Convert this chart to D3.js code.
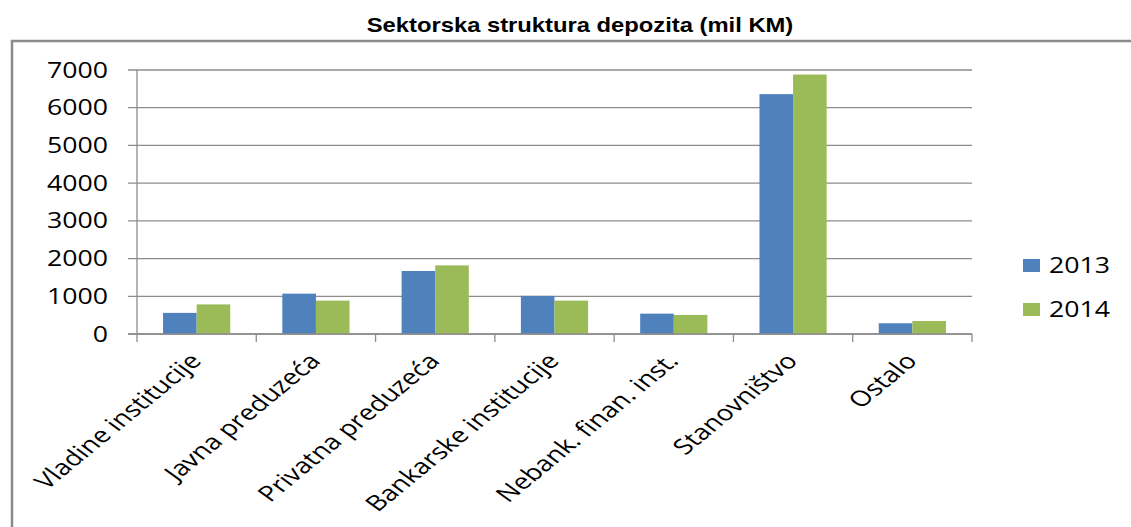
<!DOCTYPE html>
<html>
<head>
<meta charset="utf-8">
<script src="https://cdnjs.cloudflare.com/ajax/libs/d3/7.8.5/d3.min.js"></script>
<style>
  body { margin: 0; background: #fff; }
  svg { display: block; }
</style>
</head>
<body>
<svg id="chart" width="1131" height="527"></svg>
<script>
// Data
var categories = ["Vladine institucije", "Javna preduzeća", "Privatna preduzeća",
    "Bankarske institucije", "Nebank. finan. inst.", "Stanovništvo", "Ostalo"];
var years = ["2013", "2014"];
var values2013 = [560, 1070, 1670, 1010, 540, 6360, 285];
var values2014 = [785, 885, 1820, 885, 505, 6880, 345];
var yTicks = [0, 1000, 2000, 3000, 4000, 5000, 6000, 7000];
var colors = ["#4F81BD", "#9BBB59"];

var style = {
    left: 137, right: 972, top: 70, bottom: 334,
    stretch: 1.27,
    font: "'Open Sans', sans-serif",
    grid: "#8c8c8c"
};

var svg = d3.select("#chart");

var x = d3.scaleBand().domain(categories).range([style.left, style.right]).paddingInner(0).paddingOuter(0);
var x1 = d3.scaleBand().domain(years).range([0, x.bandwidth()]).paddingOuter(0.775).paddingInner(0);
var y = d3.scaleLinear().domain([0, 7000]).range([style.bottom, style.top]);

// horizontally stretched text like the source image
function stretchedText(g, tx, ty, txt, size, anchor, weight, family, sx) {
    return g.append("text")
        .attr("transform", "translate(" + tx + "," + ty + ") scale(" + (sx || style.stretch) + ",1)")
        .attr("text-anchor", anchor)
        .attr("font-family", family || style.font)
        .attr("font-size", size)
        .attr("font-weight", weight || "normal")
        .attr("fill", "#000")
        .text(txt);
}

// outer frame
svg.append("path")
    .attr("d", "M12,527 L12,41 L1131,41")
    .attr("fill", "none")
    .attr("stroke", "#8a8a8a")
    .attr("stroke-width", 2.5);

// title
stretchedText(svg, 580, 32, "Sektorska struktura depozita (mil KM)", 20.5, "middle", "bold",
    "'Liberation Sans', Arial, sans-serif", 1.16);

// gridlines
svg.append("g")
    .selectAll("line")
    .data(yTicks)
    .join("line")
    .attr("x1", style.left - 9)
    .attr("x2", style.right)
    .attr("y1", function(d) { return y(d); })
    .attr("y2", function(d) { return y(d); })
    .attr("stroke", style.grid)
    .attr("stroke-width", 1.3);

// y labels
var yLab = svg.append("g");
yTicks.forEach(function(d) {
    stretchedText(yLab, 108, y(d) + 7.5, d, 21, "end");
});

// y axis line
svg.append("line")
    .attr("x1", style.left).attr("x2", style.left)
    .attr("y1", style.top).attr("y2", style.bottom)
    .attr("stroke", style.grid).attr("stroke-width", 1.3);

// category ticks
var bounds = categories.map(function(c) { return x(c); }).concat([style.right]);
svg.append("g")
    .selectAll("line")
    .data(bounds)
    .join("line")
    .attr("x1", function(d) { return d; })
    .attr("x2", function(d) { return d; })
    .attr("y1", style.bottom)
    .attr("y2", style.bottom + 8)
    .attr("stroke", style.grid)
    .attr("stroke-width", 1.3);

// bars
var series = [values2013, values2014];
var groups = svg.append("g")
    .selectAll("g")
    .data(categories)
    .join("g")
    .attr("transform", function(c) { return "translate(" + x(c) + ",0)"; });

groups.selectAll("rect")
    .data(function(c, i) { return years.map(function(yr, k) { return { year: yr, value: series[k][i], k: k }; }); })
    .join("rect")
    .attr("x", function(d) { return x1(d.year); })
    .attr("width", x1.bandwidth())
    .attr("y", function(d) { return y(d.value); })
    .attr("height", function(d) { return y(0) - y(d.value); })
    .attr("fill", function(d) { return colors[d.k]; });

// x axis line
svg.append("line")
    .attr("x1", style.left - 9).attr("x2", style.right)
    .attr("y1", style.bottom).attr("y2", style.bottom)
    .attr("stroke", style.grid).attr("stroke-width", 1.3);

// category labels, rotated then stretched
svg.append("g")
    .selectAll("text")
    .data(categories)
    .join("text")
    .attr("transform", function(c) {
        return "translate(" + (x(c) + x.bandwidth() / 2 + 6) + "," + (style.bottom + 28) + ") scale(1.3,1) rotate(-47)";
    })
    .attr("text-anchor", "end")
    .attr("font-family", style.font)
    .attr("font-size", 21.5)
    .attr("fill", "#000")
    .text(function(c) { return c; });

// legend
var legend = svg.append("g");
years.forEach(function(yr, k) {
    var ly = 259 + k * 44;
    legend.append("rect")
        .attr("x", 1023).attr("y", ly)
        .attr("width", 17).attr("height", 13)
        .attr("fill", colors[k]);
    stretchedText(legend, 1049, ly + 14, yr, 21, "start");
});
</script>
</body>
</html>
